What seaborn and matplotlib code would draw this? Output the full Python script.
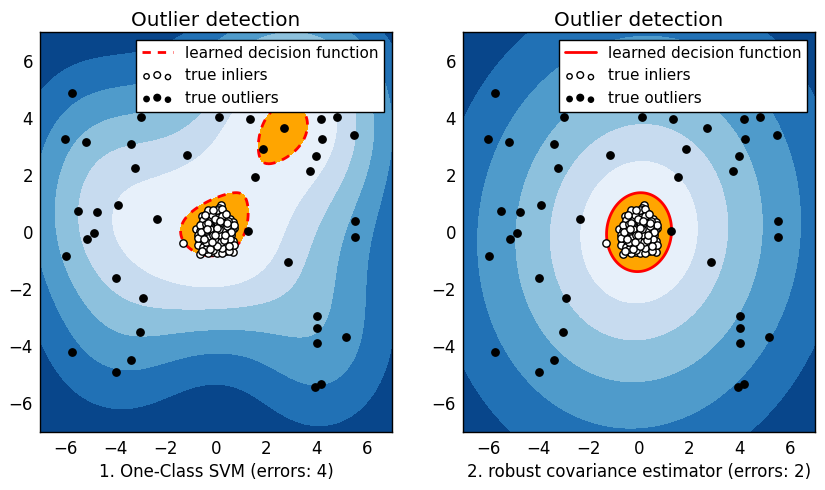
import numpy as np
import matplotlib
matplotlib.use("Agg")
import matplotlib.pyplot as plt
import seaborn as sns
from matplotlib.lines import Line2D
from matplotlib.legend_handler import HandlerPathCollection

# ---------------- data ----------------
# (the last nine outliers are estimated: they sit behind the legend boxes)
outlier_x = [-5.72, -2.98, -6.00, -5.18, -3.37, -1.15, -3.21, -5.50, -4.75, -3.89,
             -2.33, -4.85, -5.12, -5.95, -3.97, -2.92, -3.02, -5.72, -3.37, -3.97,
             0.10, 1.37, 2.72, 4.19, 4.83, 4.23, 5.50, 1.88, 3.99, 3.75,
             1.56, 5.54, 1.28, 5.54, 2.86, 4.03, 4.03, 5.18, 4.03, 4.19, 3.95,
             3.20, 3.70, 1.40, 2.60, 4.10, 1.90, 5.30, 1.00, 2.60]
outlier_y = [4.85, 4.01, 3.24, 3.14, 3.07, 2.68, 2.23, 0.72, 0.69, 0.94,
             0.45, -0.03, -0.25, -0.84, -1.62, -2.32, -3.51, -4.21, -4.49, -4.91,
             4.01, 3.94, 3.63, 3.94, 4.01, 3.24, 3.38, 2.89, 2.65, 2.12,
             1.92, 0.37, 0.03, -0.19, -1.06, -2.95, -3.37, -3.69, -3.90, -5.33, -5.44,
             4.60, 5.00, 4.80, 4.90, 6.00, 4.60, 5.30, 4.70, 6.50]

inlier_x = [0.20, 0.10, 0.14, -0.05, 0.30, -0.35,
            -0.57, -0.27, 0.00, 0.27, 0.40, 0.57, -0.45, 0.12,
            -0.40, -0.13, 0.13, 0.40, 0.66, -0.25, 0.02, 0.25, 0.52, -0.55, -0.05, 0.30,
            -0.80, -0.60, -0.33, -0.07, 0.20, 0.46, 0.73, -0.45, -0.20, 0.08, 0.33, 0.58,
            -0.65, 0.10, -0.28, 0.38,
            -0.73, -0.46, -0.20, 0.07, 0.33, 0.60, -0.35, -0.08, 0.18, 0.45, -0.58, 0.00,
            0.25, -0.15,
            -0.66, -0.40, -0.13, 0.13, 0.40, 0.66, -0.52, -0.27, 0.00, 0.27, 0.53, -0.20,
            0.06, 0.30,
            -0.73, -0.33, -0.07, 0.20, 0.46, -0.50, -0.20, 0.08, 0.34, 0.60,
            -0.46, -0.13, 0.13, 0.40, 0.66, 0.04, -0.30,
            -0.62, 0.25, -1.30,
            -0.10, 0.15, -0.30, 0.22, -0.02, 0.48, -0.42, 0.05,
            -0.52, -0.18, 0.35, 0.48, -0.62, -0.38, 0.16, 0.62, -0.70, -0.25,
            0.38, 0.55, -0.10, 0.22, -0.40, 0.50, -0.56, 0.70, 0.72, -0.15,
            0.05, 0.22, -0.30, 0.08, -0.22, 0.28, -0.05, 0.18, -0.40, 0.42,
            0.12, -0.12, 0.32, -0.32, 0.05, -0.05, 0.45, -0.48, 0.25, -0.25, 0.58,
            -0.58, 0.15, -0.15, 0.35, -0.35, 0.02, -0.02, 0.40, -0.42, 0.50, -0.10]
inlier_y = [0.95, 0.85, 0.78, 0.70, 0.68, 0.66,
            0.56, 0.53, 0.60, 0.56, 0.49, 0.44, 0.47, 0.51,
            0.36, 0.33, 0.36, 0.33, 0.36, 0.40, 0.43, 0.41, 0.28, 0.31, 0.25, 0.23,
            0.09, 0.14, 0.14, 0.07, 0.07, 0.09, 0.14, 0.20, 0.17, 0.18, 0.15, 0.17,
            0.02, 0.00, 0.02, 0.02,
            -0.09, -0.05, -0.09, -0.07, -0.07, -0.09, -0.14, -0.16, -0.14, -0.17, -0.17, -0.02,
            -0.02, 0.00,
            -0.31, -0.26, -0.26, -0.31, -0.26, -0.33, -0.36, -0.34, -0.36, -0.37, -0.40, -0.20,
            -0.23, -0.20,
            -0.44, -0.46, -0.49, -0.46, -0.49, -0.53, -0.57, -0.59, -0.57, -0.54,
            -0.66, -0.70, -0.66, -0.66, -0.70, -0.75, -0.75,
            -0.76, -0.74, -0.39,
            0.11, -0.09, -0.20, 0.28, -0.43, -0.06, 0.06, 0.34,
            0.43, 0.45, 0.54, 0.40, 0.23, 0.27, 0.25, 0.06, -0.20, -0.45,
            -0.43, -0.23, -0.62, -0.57, -0.59, -0.68, -0.68, -0.45, 0.25, 0.59,
            0.77, 0.79, 0.77, 0.09, 0.09, 0.09, -0.28, -0.34, -0.34, 0.20,
            0.12, -0.10, -0.28, 0.30, -0.48, 0.45, 0.30, -0.25, 0.55, -0.60, 0.00,
            0.00, 0.38, -0.35, -0.10, 0.12, 0.15, -0.12, 0.62, 0.60, -0.48, 0.78]

titles = ["Outlier detection", "Outlier detection"]
xlabels = ["1. One-Class SVM (errors: 4)",
           "2. robust covariance estimator (errors: 2)"]
legend_labels = ["learned decision function", "true inliers", "true outliers"]
tick_values = [-6, -4, -2, 0, 2, 4, 6]

# ---------------- decision functions computed from the data ----------------
X = np.c_[inlier_x + outlier_x, inlier_y + outlier_y]
n_in, n_out = len(inlier_x), len(outlier_x)
n = n_in + n_out
frac = n_out / n
nu = 0.95 * frac + 0.05
gamma = 0.1


def sqdist(A, B):
    return ((A[:, None, :] - B[None, :, :]) ** 2).sum(-1)


def proj(v, C):
    lo, hi = v.min() - C, v.max()
    for _ in range(60):
        tau = 0.5 * (lo + hi)
        if np.clip(v - tau, 0, C).sum() > 1:
            lo = tau
        else:
            hi = tau
    return np.clip(v - 0.5 * (lo + hi), 0, C)


K = np.exp(-gamma * sqdist(X, X))
C = 1.0 / (nu * n)
L = np.linalg.eigvalsh(K).max()
a = np.full(n, 1.0 / n)
yv = a.copy()
t = 1.0
for _ in range(4000):
    a_new = proj(yv - (K @ yv) / L, C)
    t_new = 0.5 * (1 + np.sqrt(1 + 4 * t * t))
    yv = a_new + (t - 1) / t_new * (a_new - a)
    a, t = a_new, t_new

g = np.linspace(-7, 7, 320)
xx, yy = np.meshgrid(g, g)
P = np.c_[xx.ravel(), yy.ravel()]
Z_svm = np.concatenate([np.exp(-gamma * sqdist(P[i:i + 8000], X)) @ a
                        for i in range(0, len(P), 8000)]).reshape(xx.shape)
train_svm = K @ a

Xin = X[:n_in]
mu = Xin.mean(0)
cov_inv = np.linalg.inv(np.cov(Xin.T))


def cov_decision(Q):
    d = Q - mu
    m2 = np.einsum('ij,jk,ik->i', d, cov_inv, d)
    return -m2 ** 0.33


Z_cov = cov_decision(P).reshape(xx.shape)
train_cov = cov_decision(X)

fields = [(Z_svm, train_svm, (0, (3, 2.5))), (Z_cov, train_cov, 'solid')]

# ---------------- style ----------------
sns.set_theme(style="ticks")
plt.rcParams.update({
    'font.family': ['DejaVu Sans'],
    'axes.edgecolor': 'black', 'axes.linewidth': 1.0,
    'xtick.direction': 'in', 'ytick.direction': 'in',
    'xtick.top': True, 'ytick.right': True,
    'xtick.major.size': 4, 'ytick.major.size': 4,
    'xtick.major.width': 1, 'ytick.major.width': 1,
    'xtick.major.pad': 6, 'ytick.major.pad': 5,
    'xtick.color': 'black', 'ytick.color': 'black',
    'xtick.labelsize': 12, 'ytick.labelsize': 12,
    'axes.labelsize': 12, 'axes.titlesize': 14.4,
    'axes.labelcolor': 'black', 'text.color': 'black',
})

fig = plt.figure(figsize=(8.25, 4.9), dpi=100)
W, H = 825, 490
axes = [fig.add_axes([40 / W, (H - 432) / H, 352 / W, 400 / H]),
        fig.add_axes([463 / W, (H - 432) / H, 352 / W, 400 / H])]

for ax, (Z, ztr, ls), title, xl in zip(axes, fields, titles, xlabels):
    thr = np.percentile(ztr, 100 * frac)
    ax.contourf(xx, yy, Z, levels=np.linspace(Z.min(), thr, 7), cmap='Blues_r')
    ax.contour(xx, yy, Z, levels=[thr], linewidths=2, colors='red', linestyles=[ls])
    ax.contourf(xx, yy, Z, levels=[thr, Z.max()], colors='orange')
    sns.scatterplot(x=inlier_x, y=inlier_y, color='white', edgecolor='black',
                    s=28, linewidth=1, ax=ax, zorder=3, legend=False)
    b = ax.collections[-1]
    sns.scatterplot(x=outlier_x, y=outlier_y, color='black', edgecolor='black',
                    s=28, linewidth=1, ax=ax, zorder=3, legend=False)
    c = ax.collections[-1]
    line = Line2D([], [], color='red', lw=2, ls=ls)
    leg = ax.legend([line, b, c], legend_labels, loc='upper right', fontsize=11,
                    scatterpoints=3, scatteryoffsets=[0.375, 0.5, 0.3125],
                    handler_map={b: HandlerPathCollection(sizes=[15, 23, 14]),
                                 c: HandlerPathCollection(sizes=[15, 23, 14])},
                    fancybox=False, framealpha=1, edgecolor='black',
                    borderpad=0.4, handlelength=2.0)
    leg.get_frame().set_linewidth(1.0)
    ax.set_xlim(-7, 7)
    ax.set_ylim(-7, 7)
    ax.set_xticks(tick_values)
    ax.set_yticks(tick_values)
    ax.set_title(title, pad=4.5)
    ax.set_xlabel(xl, labelpad=3)

fig.savefig("out.png", dpi=100)
